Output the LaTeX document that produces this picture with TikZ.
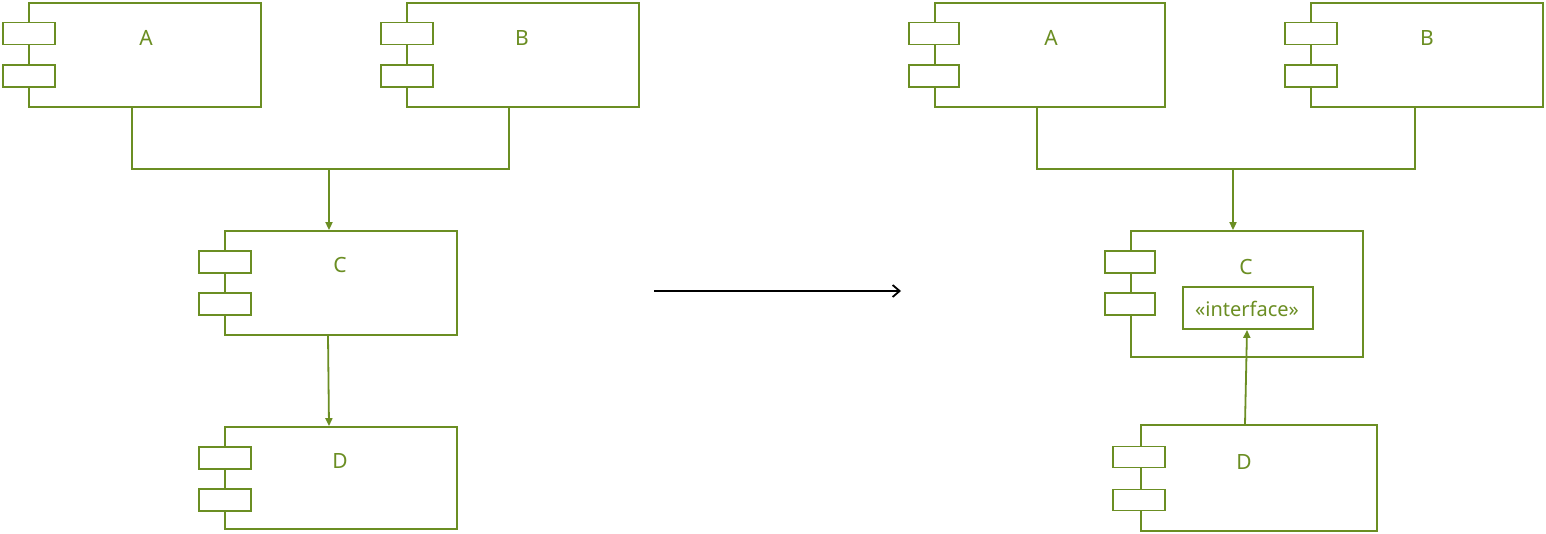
\documentclass[tikz,border=0pt]{standalone}
\usepackage{fontspec}
\setmainfont{Noto Sans}
\usetikzlibrary{arrows.meta}
\definecolor{grn}{HTML}{6B8E23}
\tikzset{
  box/.style={draw=grn, line width=1.8pt, fill=white, inner sep=0pt, rectangle},
  port/.style={draw=grn, line width=1.8pt, fill=white, inner sep=0pt, rectangle, minimum height=22pt},
  lbl/.style={text=grn, inner sep=0pt, font=\fontsize{21}{24}\selectfont},
  ilbl/.style={text=grn, inner sep=0pt, font=\fontsize{20}{22}\selectfont},
  conn/.style={draw=grn, line width=1.8pt},
  arr/.style={draw=grn, line width=1.8pt, -{Triangle[length=8pt,width=7pt]}},
}
\begin{document}
\begin{tikzpicture}[x=1pt,y=-1pt]
\useasboundingbox (0,0) rectangle (1546,534);
% ---------- left ----------
\node[box, minimum width=232pt, minimum height=104pt] (A1) at (145,55) {};
\node[port, minimum width=52pt] (A1p) at (29,33.5) {};
\node[port, minimum width=52pt] (A1q) at (29,76) {};
\node[lbl] (A1t) at (146,38) {A};

\node[box, minimum width=232pt, minimum height=104pt] (B1) at (523,55) {};
\node[port, minimum width=52pt] (B1p) at (407,33.5) {};
\node[port, minimum width=52pt] (B1q) at (407,76) {};
\node[lbl] (B1t) at (522,38) {B};

\node[box, minimum width=232pt, minimum height=104pt] (C1) at (341,283) {};
\node[port, minimum width=52pt] (C1p) at (225,262) {};
\node[port, minimum width=52pt] (C1q) at (225,304) {};
\node[lbl] (C1t) at (340,265) {C};

\node[box, minimum width=232pt, minimum height=102pt] (D1) at (341,478) {};
\node[port, minimum width=52pt] (D1p) at (225,458) {};
\node[port, minimum width=52pt] (D1q) at (225,500) {};
\node[lbl] (D1t) at (340,461) {D};

\coordinate (J1) at (329,169);
\draw[conn] ([xshift=-13pt]A1.south) |- (J1);
\draw[conn] ([xshift=-14pt]B1.south) |- (J1);
\draw[arr] (J1) -- ([xshift=-12pt]C1.north);
\draw[arr] ([xshift=-13pt]C1.south) -- ([xshift=-12pt]D1.north);

% ---------- middle arrow ----------
\coordinate (M1) at (654,291);
\coordinate (M2) at (901,291);
\draw[line width=1.8pt, -{Straight Barb[length=7pt,width=12pt]}] (M1) -- (M2);

% ---------- right ----------
\node[box, minimum width=230pt, minimum height=104pt] (A2) at (1050,55) {};
\node[port, minimum width=50pt] (A2p) at (934,33.5) {};
\node[port, minimum width=50pt] (A2q) at (934,76) {};
\node[lbl] (A2t) at (1051,38) {A};

\node[box, minimum width=232pt, minimum height=104pt] (B2) at (1427,55) {};
\node[port, minimum width=52pt] (B2p) at (1311,33.5) {};
\node[port, minimum width=52pt] (B2q) at (1311,76) {};
\node[lbl] (B2t) at (1427,38) {B};

\node[box, minimum width=232pt, minimum height=126pt] (C2) at (1247,294) {};
\node[port, minimum width=50pt] (C2p) at (1130,262) {};
\node[port, minimum width=50pt] (C2q) at (1130,304) {};
\node[lbl] (C2t) at (1246,267) {C};
\node[box, minimum width=130pt, minimum height=42pt] (I2) at (1248,308) {};
\node[ilbl] (I2t) at (1247,309) {«interface»};

\node[box, minimum width=236pt, minimum height=106pt] (D2) at (1259,478) {};
\node[port, minimum width=52pt, minimum height=21pt] (D2p) at (1139,457) {};
\node[port, minimum width=52pt, minimum height=21pt] (D2q) at (1139,500) {};
\node[lbl] (D2t) at (1244,462) {D};

\coordinate (J2) at (1233,169);
\draw[conn] ([xshift=-13pt]A2.south) |- (J2);
\draw[conn] ([xshift=-12pt]B2.south) |- (J2);
\draw[arr] (J2) -- ([xshift=-14pt]C2.north);
\draw[arr] ([xshift=-14pt]D2.north) -- ([xshift=-1pt]I2.south);
\end{tikzpicture}
\end{document}
